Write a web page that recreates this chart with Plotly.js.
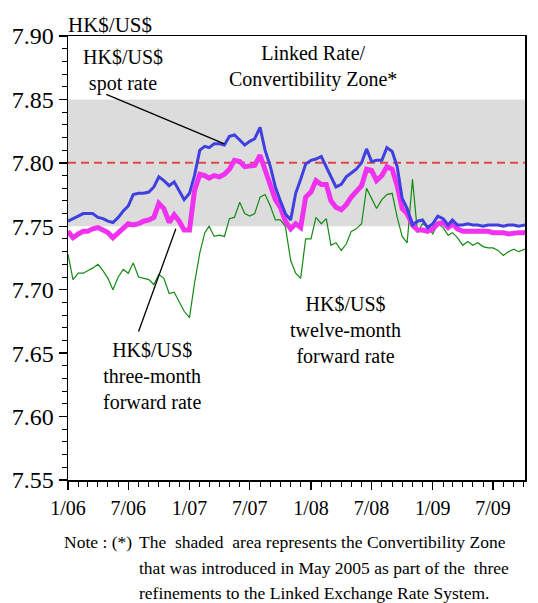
<!DOCTYPE html>
<html>
<head>
<meta charset="utf-8">
<script src="https://cdn.plot.ly/plotly-3.0.1.min.js"></script>
<style>html,body{margin:0;padding:0;background:#fff;}#chart{width:538px;height:603px;}</style>
</head>
<body>
<div id="chart"></div>
<script>
// semi-monthly observation dates
const dates = [
 '2006-01-01','2006-01-16','2006-02-01','2006-02-16','2006-03-01','2006-03-16','2006-04-01','2006-04-16','2006-05-01','2006-05-16','2006-06-01','2006-06-16',
 '2006-07-01','2006-07-16','2006-08-01','2006-08-16','2006-09-01','2006-09-16','2006-10-01','2006-10-16','2006-11-01','2006-11-16','2006-12-01','2006-12-16',
 '2007-01-01','2007-01-16','2007-02-01','2007-02-16','2007-03-01','2007-03-16','2007-04-01','2007-04-16','2007-05-01','2007-05-16','2007-06-01','2007-06-16',
 '2007-07-01','2007-07-16','2007-08-01','2007-08-16','2007-09-01','2007-09-16','2007-10-01','2007-10-16','2007-11-01','2007-11-16','2007-12-01','2007-12-16',
 '2008-01-01','2008-01-16','2008-02-01','2008-02-16','2008-03-01','2008-03-16','2008-04-01','2008-04-16','2008-05-01','2008-05-16','2008-06-01','2008-06-16',
 '2008-07-01','2008-07-16','2008-08-01','2008-08-16','2008-09-01','2008-09-16','2008-10-01','2008-10-16','2008-11-01','2008-11-16','2008-12-01','2008-12-16',
 '2009-01-01','2009-01-16','2009-02-01','2009-02-16','2009-03-01','2009-03-16','2009-04-01','2009-04-16','2009-05-01','2009-05-16','2009-06-01','2009-06-16',
 '2009-07-01','2009-07-16','2009-08-01','2009-08-16','2009-09-01','2009-09-16','2009-10-05'
];
const spotRate = [
 7.754,7.756,7.758,7.760,7.760,7.760,7.757,7.756,7.754,7.753,7.757,7.762,7.766,7.775,7.776,7.776,7.777,7.781,7.789,7.786,7.782,7.785,7.778,7.771,
 7.776,7.790,7.810,7.813,7.812,7.815,7.815,7.814,7.821,7.822,7.818,7.814,7.817,7.819,7.828,7.810,7.797,7.781,7.770,7.760,7.755,7.776,7.787,7.799,
 7.802,7.803,7.805,7.797,7.790,7.781,7.783,7.789,7.792,7.795,7.800,7.811,7.801,7.802,7.802,7.812,7.809,7.797,7.772,7.764,7.751,7.754,7.755,7.749,
 7.752,7.758,7.756,7.751,7.755,7.751,7.751,7.752,7.751,7.751,7.750,7.751,7.751,7.751,7.750,7.751,7.751,7.750,7.751
];
const threeMonthFwd = [
 7.746,7.741,7.744,7.746,7.746,7.748,7.749,7.747,7.745,7.741,7.745,7.748,7.752,7.751,7.752,7.754,7.755,7.757,7.768,7.764,7.753,7.759,7.754,7.747,
 7.747,7.778,7.791,7.790,7.788,7.790,7.789,7.791,7.795,7.802,7.801,7.797,7.798,7.798,7.806,7.795,7.784,7.771,7.765,7.754,7.748,7.752,7.749,7.773,
 7.777,7.786,7.783,7.783,7.770,7.765,7.763,7.767,7.773,7.777,7.782,7.795,7.794,7.786,7.790,7.797,7.795,7.782,7.764,7.760,7.751,7.747,7.747,7.746,
 7.748,7.752,7.753,7.749,7.752,7.748,7.746,7.746,7.746,7.746,7.746,7.746,7.745,7.745,7.745,7.744,7.745,7.745,7.745
];
const twelveMonthFwd = [
 7.728,7.708,7.713,7.713,7.715,7.717,7.720,7.715,7.709,7.700,7.710,7.716,7.713,7.721,7.710,7.709,7.708,7.704,7.712,7.709,7.697,7.698,7.690,7.683,
 7.678,7.705,7.729,7.745,7.750,7.742,7.743,7.742,7.756,7.757,7.769,7.760,7.758,7.760,7.773,7.775,7.766,7.755,7.755,7.750,7.723,7.713,7.709,7.740,
 7.740,7.757,7.752,7.756,7.735,7.737,7.731,7.736,7.746,7.748,7.752,7.780,7.772,7.764,7.771,7.775,7.776,7.757,7.742,7.737,7.787,7.745,7.752,7.750,
 7.744,7.752,7.749,7.743,7.745,7.741,7.735,7.738,7.735,7.737,7.734,7.733,7.733,7.731,7.727,7.730,7.732,7.730,7.732
];
const linkedRate = 7.80;
const zoneStrong = 7.75;
const zoneWeak = 7.85;
const xTickVals = ['2006-01-01','2006-07-01','2007-01-01','2007-07-01','2008-01-01','2008-07-01','2009-01-01','2009-07-01'];
const xTickText = ['1/06','7/06','1/07','7/07','1/08','7/08','1/09','7/09'];
const yTickVals = [7.55,7.60,7.65,7.70,7.75,7.80,7.85,7.90];
const yTickText = ['7.55','7.60','7.65','7.70','7.75','7.80','7.85','7.90'];
const xRange = ['2006-01-01','2009-10-05'];
const yRange = [7.55, 7.90];
const noteLines = [
  'The  shaded  area represents the Convertibility Zone',
  'that was introduced in May 2005 as part of the  three',
  'refinements to the Linked Exchange Rate System.'
];

const serif = '"Liberation Serif", "Times New Roman", Times, serif';

const traces = [
  {x: dates, y: twelveMonthFwd, type: 'scatter', mode: 'lines', line: {color: '#138a13', width: 1.2}, hoverinfo: 'skip'},
  {x: dates, y: threeMonthFwd, type: 'scatter', mode: 'lines', line: {color: '#f032f0', width: 5}, hoverinfo: 'skip'},
  {x: dates, y: spotRate, type: 'scatter', mode: 'lines', line: {color: '#4040e0', width: 3}, hoverinfo: 'skip'}
];

const plotH = 444, plotW = 457;
const noteAnns = noteLines.map((t, i) => ({
  text: t, xref: 'paper', yref: 'paper', x: 69/plotW, y: -(62 + i*25.5)/plotH,
  xanchor: 'left', yanchor: 'middle', showarrow: false, font: {family: serif, size: 17.5, color: '#000'}
}));

const layout = {
  width: 538, height: 603,
  margin: {l: 68, r: 13, t: 36, b: 123, pad: 0},
  paper_bgcolor: '#ffffff', plot_bgcolor: '#ffffff',
  showlegend: false,
  font: {family: serif, color: '#000'},
  xaxis: {
    type: 'date', range: xRange, tickvals: xTickVals, ticktext: xTickText,
    showgrid: false, zeroline: false, showline: true, linecolor: '#000', linewidth: 1.5, mirror: true,
    ticks: 'outside', ticklen: 8, tickwidth: 1.3, tickcolor: '#000',
    ticklabelstandoff: 1,
    tickfont: {family: serif, size: 20, color: '#000'},
    minor: {ticks: 'outside', ticklen: 5, tickwidth: 1, tickcolor: '#000', dtick: 'M1', tick0: '2006-01-01', showgrid: false}
  },
  yaxis: {
    range: yRange, tickvals: yTickVals, ticktext: yTickText,
    showgrid: false, zeroline: false, showline: true, linecolor: '#000', linewidth: 1.5, mirror: true,
    ticks: 'outside', ticklen: 8, tickwidth: 1.3, tickcolor: '#000',
    tickfont: {family: serif, size: 24, color: '#000'},
    minor: {ticks: 'outside', ticklen: 5, tickwidth: 1, tickcolor: '#000', dtick: 0.01, tick0: 7.55, showgrid: false}
  },
  shapes: [
    {type: 'rect', xref: 'paper', yref: 'y', x0: 0, x1: 1, y0: zoneStrong, y1: zoneWeak,
     fillcolor: '#dcdcdc', line: {width: 0}, layer: 'below'},
    {type: 'line', xref: 'paper', yref: 'y', x0: 0, x1: 1, y0: linkedRate, y1: linkedRate,
     line: {color: '#e04848', width: 2, dash: '8px,5px'}, layer: 'below'},
    {type: 'line', xref: 'x', yref: 'y', x0: '2006-04-26', y0: 7.854, x1: '2007-04-16', y1: 7.815,
     line: {color: '#000', width: 1.3}},
    {type: 'line', xref: 'x', yref: 'y', x0: '2006-08-01', y0: 7.667, x1: '2006-11-21', y1: 7.748,
     line: {color: '#000', width: 1.3}}
  ],
  annotations: [
    {text: 'HK$/US$', xref: 'paper', yref: 'paper', x: 0, y: 1, xanchor: 'left', yanchor: 'bottom',
     xshift: -2, yshift: -3, showarrow: false, font: {family: serif, size: 21, color: '#000'}},
    {text: 'HK$/US$<br>spot rate', xref: 'x', yref: 'y', x: '2006-06-14', y: 7.873, showarrow: false,
     align: 'center', font: {family: serif, size: 20, color: '#000'}},
    {text: 'Linked Rate/<br>Convertibility Zone*', xref: 'x', yref: 'y', x: '2008-01-07', y: 7.876, showarrow: false,
     align: 'center', font: {family: serif, size: 20, color: '#000'}},
    {text: 'HK$/US$<br>three-month<br>forward rate', xref: 'x', yref: 'y', x: '2006-09-10', y: 7.632, showarrow: false,
     align: 'center', font: {family: serif, size: 20, color: '#000'}},
    {text: 'HK$/US$<br>twelve-month<br>forward rate', xref: 'x', yref: 'y', x: '2008-04-15', y: 7.668, showarrow: false,
     align: 'center', font: {family: serif, size: 20, color: '#000'}},
    {text: 'Note : (*)', xref: 'paper', yref: 'paper', x: -6/plotW, y: -62/plotH, xanchor: 'left', yanchor: 'middle',
     showarrow: false, font: {family: serif, size: 17.5, color: '#000'}}
  ].concat(noteAnns)
};

Plotly.newPlot('chart', traces, layout, {staticPlot: true, displayModeBar: false});
</script>
</body>
</html>
